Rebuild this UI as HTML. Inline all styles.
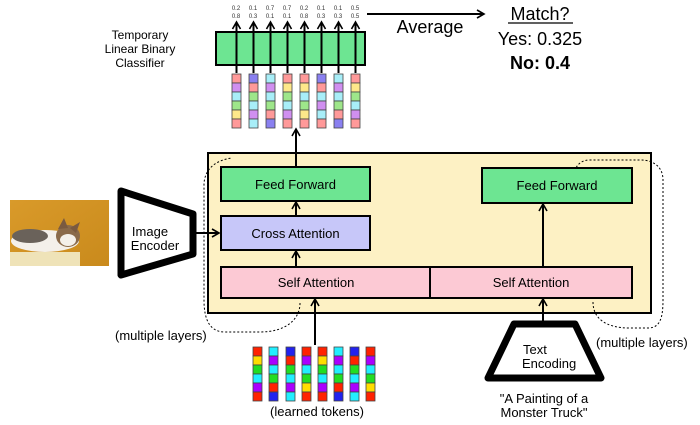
<!DOCTYPE html>
<html><head><style>
html,body{margin:0;padding:0;background:#fff;}
svg{display:block;font-family:"Liberation Sans",Arial,sans-serif;}
</style></head><body>
<svg width="700" height="425" viewBox="0 0 700 425" xmlns="http://www.w3.org/2000/svg">
<defs>
<marker id="ah" markerWidth="10" markerHeight="10" refX="8" refY="5" orient="auto" markerUnits="userSpaceOnUse">
<path d="M1,1 L8,5 L1,9" fill="none" stroke="#000" stroke-width="1.6"/>
</marker>
<linearGradient id="bg" x1="0" y1="0" x2="1" y2="1"><stop offset="0" stop-color="#d99a2a"/><stop offset="1" stop-color="#c98a1c"/></linearGradient>
</defs>

<!-- main yellow box -->
<rect x="208" y="153" width="443" height="160" fill="#fdf1c4" stroke="#000" stroke-width="2"/>

<!-- dotted loops -->
<path d="M300,303 C300,320 285,332 260,332 L225,332 C210,332 204,320 204,300 L204,185 C204,170 215,160 232,158" fill="none" stroke="#000" stroke-width="1" stroke-dasharray="2,2"/>
<path d="M593,302 C593,318 605,328 630,328 L648,328 C660,328 663,318 663,300 L663,180 C663,168 655,160 640,160 L590,160 C582,160 578,164 576,168" fill="none" stroke="#000" stroke-width="1" stroke-dasharray="2,2"/>

<!-- boxes -->
<rect x="221" y="167" width="149" height="34" fill="#6de592" stroke="#000" stroke-width="2"/>
<text x="295.5" y="189" font-size="13" text-anchor="middle">Feed Forward</text>
<rect x="221" y="216" width="149" height="34" fill="#c7c7f9" stroke="#000" stroke-width="2"/>
<text x="295.5" y="238" font-size="13" text-anchor="middle">Cross Attention</text>
<rect x="221" y="267" width="411" height="31" fill="#fcc9d4" stroke="#000" stroke-width="2"/>
<line x1="430" y1="267" x2="430" y2="298" stroke="#000" stroke-width="2"/>
<text x="316" y="287" font-size="13" text-anchor="middle">Self Attention</text>
<text x="531" y="287" font-size="13" text-anchor="middle">Self Attention</text>
<rect x="482" y="168" width="150" height="35" fill="#6de592" stroke="#000" stroke-width="2"/>
<text x="557" y="190" font-size="13" text-anchor="middle">Feed Forward</text>

<!-- internal arrows -->
<line x1="296" y1="267" x2="296" y2="251" stroke="#000" stroke-width="2" marker-end="url(#ah)"/>
<line x1="296" y1="216" x2="296" y2="202" stroke="#000" stroke-width="2" marker-end="url(#ah)"/>
<line x1="296" y1="167" x2="296" y2="129" stroke="#000" stroke-width="2" marker-end="url(#ah)"/>
<line x1="315" y1="345" x2="315" y2="299" stroke="#000" stroke-width="2" marker-end="url(#ah)"/>
<line x1="543" y1="323" x2="543" y2="299" stroke="#000" stroke-width="2" marker-end="url(#ah)"/>
<line x1="543" y1="267" x2="543" y2="204" stroke="#000" stroke-width="2" marker-end="url(#ah)"/>
<line x1="196" y1="233" x2="219" y2="233" stroke="#000" stroke-width="2" marker-end="url(#ah)"/>

<!-- cat image -->
<rect x="10" y="200" width="99" height="66" fill="url(#bg)"/>
<rect x="10" y="252" width="70" height="14" fill="#efe3b8"/>
<ellipse cx="45" cy="241" rx="34" ry="11" fill="#f4f0ea"/>
<ellipse cx="30" cy="236" rx="18" ry="7" fill="#6a625a"/>
<ellipse cx="68" cy="236" rx="12" ry="11" fill="#8a6a4a"/>
<ellipse cx="68" cy="240" rx="8" ry="6" fill="#f4f0ea"/>
<path d="M58,229 L64,218 L68,228 Z M70,228 L80,222 L76,233 Z" fill="#7a5a40"/>

<!-- image encoder -->
<path d="M121,191 L193,214 L193,254 L121,275 Z" fill="#fff" stroke="#000" stroke-width="7" stroke-linejoin="round"/>
<text x="150" y="236" font-size="13" text-anchor="middle">Image</text>
<text x="155" y="250" font-size="13" text-anchor="middle">Encoder</text>

<!-- text encoding -->
<path d="M514,324 L575,324 L601,378 L488,378 Z" fill="#fff" stroke="#000" stroke-width="7" stroke-linejoin="round"/>
<text x="523" y="354" font-size="13">Text</text>
<text x="522" y="368" font-size="13">Encoding</text>
<text x="544" y="403" font-size="13" text-anchor="middle">"A Painting of a</text>
<text x="544" y="417" font-size="13" text-anchor="middle">Monster Truck"</text>

<text x="115" y="340" font-size="13">(multiple layers)</text>
<text x="596" y="347" font-size="13">(multiple layers)</text>
<text x="317" y="416" font-size="13" text-anchor="middle">(learned tokens)</text>

<!-- classifier -->
<rect x="216" y="32" width="149" height="33" fill="#6de592" stroke="#000" stroke-width="2"/>
<text x="140" y="39" font-size="12" text-anchor="middle">Temporary</text>
<text x="140" y="53" font-size="12" text-anchor="middle">Linear Binary</text>
<text x="140" y="67" font-size="12" text-anchor="middle">Classifier</text>

<!-- top tokens -->
<g stroke="#444" stroke-width="0.8">
<g transform="translate(232,74)"><rect y="0" width="9" height="9" fill="#f99"/><rect y="9" width="9" height="9" fill="#d08ff0"/><rect y="18" width="9" height="9" fill="#a8eef8"/><rect y="27" width="9" height="9" fill="#9ee68a"/><rect y="36" width="9" height="9" fill="#fde88a"/><rect y="45" width="9" height="9" fill="#f99"/></g>
<g transform="translate(249,74)"><rect y="0" width="9" height="9" fill="#8a80f0"/><rect y="9" width="9" height="9" fill="#f99"/><rect y="18" width="9" height="9" fill="#9ee68a"/><rect y="27" width="9" height="9" fill="#a8eef8"/><rect y="36" width="9" height="9" fill="#d08ff0"/><rect y="45" width="9" height="9" fill="#a8eef8"/></g>
<g transform="translate(266,74)"><rect y="0" width="9" height="9" fill="#a8eef8"/><rect y="9" width="9" height="9" fill="#d08ff0"/><rect y="18" width="9" height="9" fill="#a8eef8"/><rect y="27" width="9" height="9" fill="#9ee68a"/><rect y="36" width="9" height="9" fill="#f99"/><rect y="45" width="9" height="9" fill="#8a80f0"/></g>
<g transform="translate(283,74)"><rect y="0" width="9" height="9" fill="#f99"/><rect y="9" width="9" height="9" fill="#fde88a"/><rect y="18" width="9" height="9" fill="#9ee68a"/><rect y="27" width="9" height="9" fill="#a8eef8"/><rect y="36" width="9" height="9" fill="#d08ff0"/><rect y="45" width="9" height="9" fill="#f99"/></g>
<g transform="translate(300,74)"><rect y="0" width="9" height="9" fill="#f99"/><rect y="9" width="9" height="9" fill="#fde88a"/><rect y="18" width="9" height="9" fill="#a8eef8"/><rect y="27" width="9" height="9" fill="#9ee68a"/><rect y="36" width="9" height="9" fill="#fde88a"/><rect y="45" width="9" height="9" fill="#f99"/></g>
<g transform="translate(317,74)"><rect y="0" width="9" height="9" fill="#8a80f0"/><rect y="9" width="9" height="9" fill="#f99"/><rect y="18" width="9" height="9" fill="#a8eef8"/><rect y="27" width="9" height="9" fill="#d08ff0"/><rect y="36" width="9" height="9" fill="#a8eef8"/><rect y="45" width="9" height="9" fill="#f99"/></g>
<g transform="translate(334,74)"><rect y="0" width="9" height="9" fill="#a8eef8"/><rect y="9" width="9" height="9" fill="#d08ff0"/><rect y="18" width="9" height="9" fill="#a8eef8"/><rect y="27" width="9" height="9" fill="#9ee68a"/><rect y="36" width="9" height="9" fill="#f99"/><rect y="45" width="9" height="9" fill="#8a80f0"/></g>
<g transform="translate(351,74)"><rect y="0" width="9" height="9" fill="#f99"/><rect y="9" width="9" height="9" fill="#fde88a"/><rect y="18" width="9" height="9" fill="#9ee68a"/><rect y="27" width="9" height="9" fill="#a8eef8"/><rect y="36" width="9" height="9" fill="#d08ff0"/><rect y="45" width="9" height="9" fill="#f99"/></g>
</g>

<!-- column arrows -->
<g stroke="#000" stroke-width="2">
<line x1="236.5" y1="73" x2="236.5" y2="22" marker-end="url(#ah)"/>
<line x1="253.5" y1="73" x2="253.5" y2="22" marker-end="url(#ah)"/>
<line x1="270.5" y1="73" x2="270.5" y2="22" marker-end="url(#ah)"/>
<line x1="287.5" y1="73" x2="287.5" y2="22" marker-end="url(#ah)"/>
<line x1="304.5" y1="73" x2="304.5" y2="22" marker-end="url(#ah)"/>
<line x1="321.5" y1="73" x2="321.5" y2="22" marker-end="url(#ah)"/>
<line x1="338.5" y1="73" x2="338.5" y2="22" marker-end="url(#ah)"/>
<line x1="355.5" y1="73" x2="355.5" y2="22" marker-end="url(#ah)"/>
</g>
<g font-size="6" fill="#333" text-anchor="middle">
<text x="236" y="10">0.2</text><text x="236" y="18">0.8</text>
<text x="253" y="10">0.1</text><text x="253" y="18">0.3</text>
<text x="270" y="10">0.7</text><text x="270" y="18">0.1</text>
<text x="287" y="10">0.7</text><text x="287" y="18">0.1</text>
<text x="304" y="10">0.2</text><text x="304" y="18">0.8</text>
<text x="321" y="10">0.1</text><text x="321" y="18">0.3</text>
<text x="338" y="10">0.1</text><text x="338" y="18">0.3</text>
<text x="355" y="10">0.5</text><text x="355" y="18">0.5</text>
</g>

<!-- learned tokens -->
<g stroke="#444" stroke-width="0.8">
<g transform="translate(253,347)"><rect y="0" width="9" height="9" fill="#f20"/><rect y="9" width="9" height="9" fill="#fd0"/><rect y="18" width="9" height="9" fill="#2d2"/><rect y="27" width="9" height="9" fill="#2ef"/><rect y="36" width="9" height="9" fill="#a0f"/><rect y="45" width="9" height="9" fill="#f20"/></g>
<g transform="translate(269,347)"><rect y="0" width="9" height="9" fill="#2ef"/><rect y="9" width="9" height="9" fill="#a0f"/><rect y="18" width="9" height="9" fill="#2ef"/><rect y="27" width="9" height="9" fill="#2d2"/><rect y="36" width="9" height="9" fill="#f20"/><rect y="45" width="9" height="9" fill="#22e"/></g>
<g transform="translate(286,347)"><rect y="0" width="9" height="9" fill="#22e"/><rect y="9" width="9" height="9" fill="#f20"/><rect y="18" width="9" height="9" fill="#2d2"/><rect y="27" width="9" height="9" fill="#2ef"/><rect y="36" width="9" height="9" fill="#a0f"/><rect y="45" width="9" height="9" fill="#2ef"/></g>
<g transform="translate(302,347)"><rect y="0" width="9" height="9" fill="#f20"/><rect y="9" width="9" height="9" fill="#a0f"/><rect y="18" width="9" height="9" fill="#2ef"/><rect y="27" width="9" height="9" fill="#2d2"/><rect y="36" width="9" height="9" fill="#fd0"/><rect y="45" width="9" height="9" fill="#f20"/></g>
<g transform="translate(318,347)"><rect y="0" width="9" height="9" fill="#f20"/><rect y="9" width="9" height="9" fill="#fd0"/><rect y="18" width="9" height="9" fill="#2d2"/><rect y="27" width="9" height="9" fill="#2ef"/><rect y="36" width="9" height="9" fill="#a0f"/><rect y="45" width="9" height="9" fill="#f20"/></g>
<g transform="translate(334,347)"><rect y="0" width="9" height="9" fill="#2ef"/><rect y="9" width="9" height="9" fill="#a0f"/><rect y="18" width="9" height="9" fill="#2ef"/><rect y="27" width="9" height="9" fill="#2d2"/><rect y="36" width="9" height="9" fill="#f20"/><rect y="45" width="9" height="9" fill="#22e"/></g>
<g transform="translate(350,347)"><rect y="0" width="9" height="9" fill="#22e"/><rect y="9" width="9" height="9" fill="#f20"/><rect y="18" width="9" height="9" fill="#2d2"/><rect y="27" width="9" height="9" fill="#2ef"/><rect y="36" width="9" height="9" fill="#a0f"/><rect y="45" width="9" height="9" fill="#2ef"/></g>
<g transform="translate(366,347)"><rect y="0" width="9" height="9" fill="#f20"/><rect y="9" width="9" height="9" fill="#a0f"/><rect y="18" width="9" height="9" fill="#2ef"/><rect y="27" width="9" height="9" fill="#2d2"/><rect y="36" width="9" height="9" fill="#fd0"/><rect y="45" width="9" height="9" fill="#f20"/></g>
</g>

<!-- average / match -->
<line x1="367" y1="14" x2="484" y2="14" stroke="#000" stroke-width="2" marker-end="url(#ah)"/>
<text x="430" y="33" font-size="18" text-anchor="middle">Average</text>
<text x="540" y="20" font-size="18" text-anchor="middle">Match?</text>
<line x1="508" y1="23" x2="573" y2="23" stroke="#000" stroke-width="1.3"/>
<text x="540" y="45" font-size="18" text-anchor="middle">Yes: 0.325</text>
<text x="540" y="69" font-size="18" font-weight="bold" text-anchor="middle">No: 0.4</text>
</svg>
</body></html>
